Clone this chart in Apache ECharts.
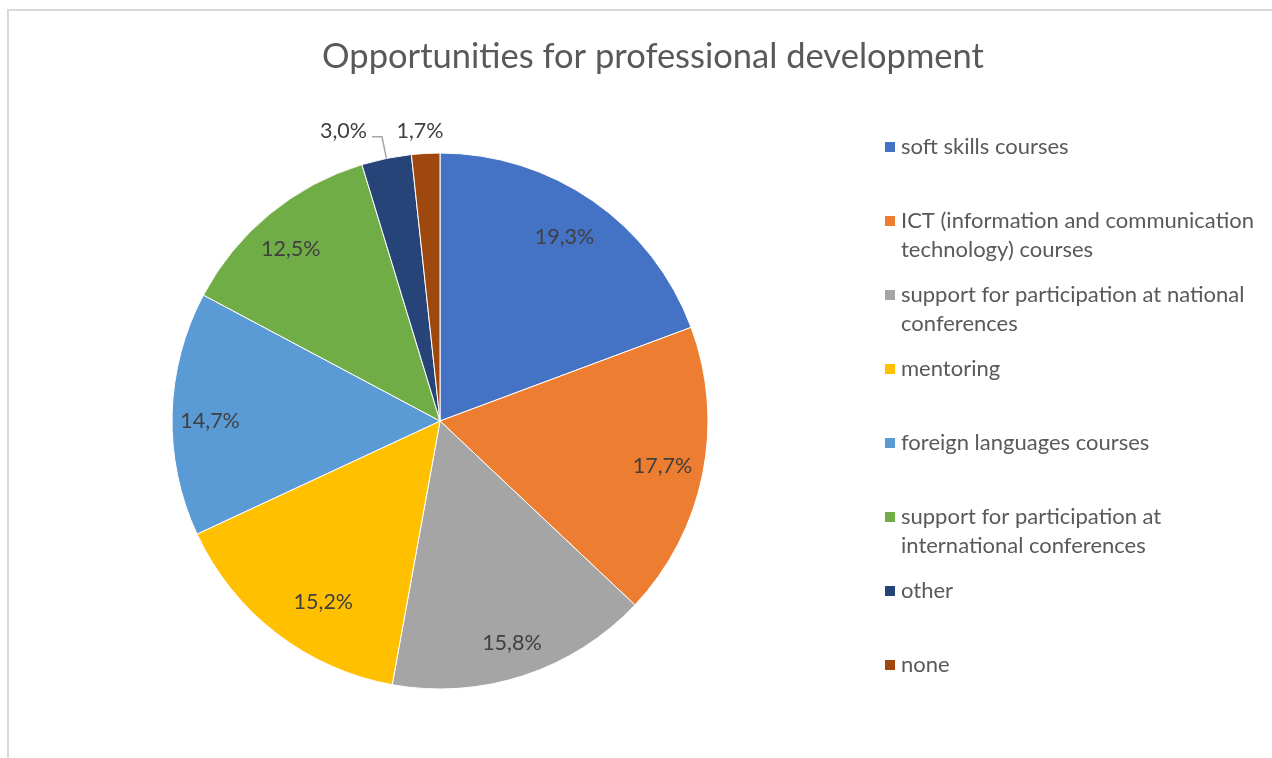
<!DOCTYPE html>
<html>
<head>
<meta charset="utf-8">
<script src="https://cdn.jsdelivr.net/npm/echarts@6/dist/echarts.min.js"></script>
<style>
html,body{margin:0;padding:0;background:#fff;}
#chart{width:1272px;height:758px;}
</style>
</head>
<body>
<div id="chart"></div>
<script>
const titleText = 'Opportunities for professional development';
const categories = [
  'soft skills courses',
  'ICT (information and communication technology) courses',
  'support for participation at national conferences',
  'mentoring',
  'foreign languages courses',
  'support for participation at international conferences',
  'other',
  'none'
];
const legendLabels = [
  'soft skills courses',
  'ICT (information and communication\ntechnology) courses',
  'support for participation at national\nconferences',
  'mentoring',
  'foreign languages courses',
  'support for participation at\ninternational conferences',
  'other',
  'none'
];
const values = [19.3, 17.7, 15.8, 15.2, 14.7, 12.5, 3.0, 1.7];
const colors = ['#4472C4', '#ED7D31', '#A5A5A5', '#FFC000', '#5B9BD5', '#70AD47', '#264478', '#9E480E'];

const FONT = 'Lato';
const LH = 29;
const fmt = v => v.toFixed(1).replace('.', ',') + '%';

const chart = echarts.init(document.getElementById('chart'), null, {renderer: 'canvas'});

const mainData = categories.map((name, i) => {
  const d = {name: name, value: values[i], itemStyle: {color: colors[i]}};
  if (i === 6) {
    d.label = {show: true, lineHeight: 12, formatter: p => fmt(p.value) + '\n'};
    d.labelLine = {show: true, length: 22, length2: 10};
  } else if (i === 7) {
    d.label = {show: true};
    d.labelLine = {show: false, length: 22, length2: -24};
  } else {
    d.label = {show: false};
    d.labelLine = {show: false};
  }
  return d;
});

// small label nudges (layout only) to mimic the original label placement
const insideLabelNudge = [[-5, 3], [0, 0], [1, 6], [22, 1], [-3, 6], [-5, 3], [0, 0], [0, 0]];

const overlayData = categories.map((name, i) => ({
  name: name,
  value: values[i],
  label: {show: i < 6, offset: insideLabelNudge[i]}
}));

const option = {
  animation: false,
  backgroundColor: '#ffffff',
  graphic: [{
    type: 'rect',
    shape: {x: 8, y: 10, width: 1400, height: 900},
    style: {fill: 'none', stroke: '#d9d9d9', lineWidth: 2},
    silent: true
  }],
  title: {
    text: titleText,
    left: 648,
    top: 34,
    textAlign: 'center',
    textStyle: {fontFamily: FONT, fontSize: 34.5, fontWeight: 'normal', color: '#595959'}
  },
  legend: {
    orient: 'vertical',
    left: 883,
    top: 103.5,
    padding: 0,
    itemWidth: 12,
    itemHeight: 12,
    itemGap: 74 - 3 * LH,
    icon: 'rect',
    selectedMode: false,
    data: categories,
    formatter: name => {
      const t = legendLabels[categories.indexOf(name)];
      return '\n' + t + (t.indexOf('\n') >= 0 ? '' : '\n');
    },
    textStyle: {fontFamily: FONT, fontSize: 22, color: '#595959', lineHeight: LH}
  },
  series: [{
    type: 'pie',
    center: [440, 421],
    radius: 268,
    startAngle: 90,
    clockwise: true,
    avoidLabelOverlap: false,
    silent: true,
    itemStyle: {borderColor: '#ffffff', borderWidth: 1},
    label: {
      position: 'outside',
      formatter: p => fmt(p.value),
      fontFamily: FONT,
      fontSize: 21.5,
      color: '#404040',
      distanceToLabelLine: 5
    },
    labelLine: {lineStyle: {color: '#a6a6a6', width: 1.5}, smooth: false},
    emphasis: {disabled: true},
    data: mainData
  }, {
    type: 'pie',
    center: [440, 421],
    radius: [180, 268],
    startAngle: 90,
    clockwise: true,
    silent: true,
    avoidLabelOverlap: false,
    itemStyle: {color: 'rgba(0,0,0,0)', borderWidth: 0},
    label: {
      position: 'inside',
      formatter: p => fmt(p.value),
      fontFamily: FONT,
      fontSize: 21.5,
      color: '#404040'
    },
    labelLine: {show: false},
    emphasis: {disabled: true},
    data: overlayData
  }]
};
chart.setOption(option);
</script>
</body>
</html>
